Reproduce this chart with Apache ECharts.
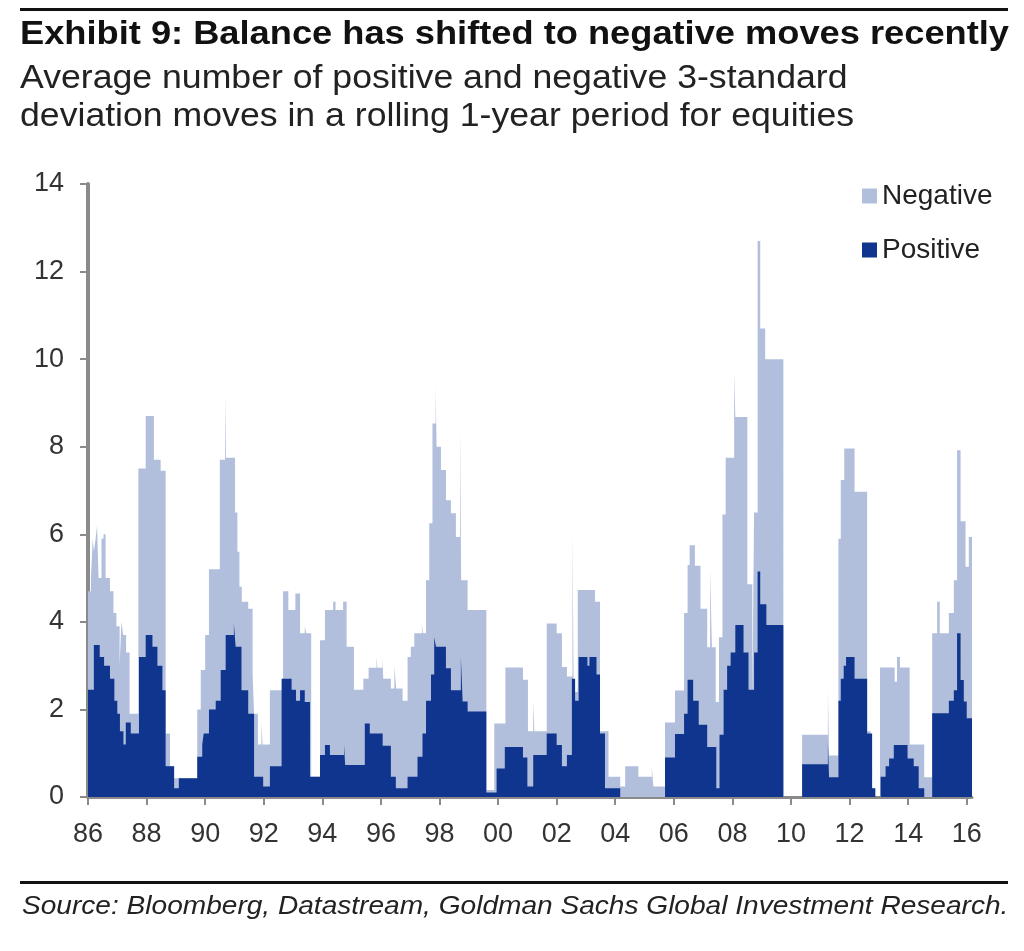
<!DOCTYPE html>
<html>
<head>
<meta charset="utf-8">
<script src="https://cdn.jsdelivr.net/npm/echarts@6/dist/echarts.min.js"></script>
<style>
  html, body { margin: 0; padding: 0; background: #fff; }
  #chart { width: 1024px; height: 951px; }
</style>
</head>
<body>
<div id="chart"></div>
<script>
// x tick labels (every 2 years)
var yearTicks = [1986, 1988, 1990, 1992, 1994, 1996, 1998, 2000, 2002, 2004, 2006, 2008, 2010, 2012, 2014, 2016];

// top of the light band (negative moves sit on top of positive ones)
var negYears = [1986.00, 1986.10, 1986.16, 1986.20, 1986.26, 1986.31, 1986.36, 1986.46, 1986.53, 1986.60,
  1986.75, 1986.87, 1986.97, 1987.08, 1987.14, 1987.20, 1987.30, 1987.42, 1987.72, 1987.97,
  1988.25, 1988.48, 1988.65, 1988.80, 1988.94, 1989.73, 1989.85, 1990.00, 1990.13, 1990.50,
  1990.68, 1990.71, 1991.02, 1991.10, 1991.17, 1991.25, 1991.47, 1991.62, 1991.67, 1991.80,
  1991.92, 1991.96, 1992.21, 1992.66, 1992.84, 1993.08, 1993.24, 1993.40, 1993.45, 1993.62,
  1993.92, 1994.09, 1994.37, 1994.45, 1994.71, 1994.83, 1995.08, 1995.40, 1995.58, 1995.85,
  1995.88, 1996.05, 1996.08, 1996.34, 1996.46, 1996.52, 1996.74, 1996.91, 1997.02, 1997.14,
  1997.40, 1997.43, 1997.54, 1997.65, 1997.76, 1997.87, 1997.90, 1998.05, 1998.22, 1998.39,
  1998.56, 1998.70, 1998.74, 1998.96, 1999.60, 1999.87, 2000.25, 2000.85, 2001.02, 2001.20,
  2001.24, 2001.66, 2002.00, 2002.18, 2002.35, 2002.54, 2002.58, 2002.72, 2003.31, 2003.48,
  2003.77, 2004.17, 2004.34, 2004.79, 2005.25, 2005.30, 2005.70, 2006.04, 2006.35, 2006.47,
  2006.54, 2006.72, 2006.91, 2007.14, 2007.24, 2007.30, 2007.43, 2007.54, 2007.66, 2007.77,
  2008.06, 2008.10, 2008.51, 2008.68, 2008.74, 2008.86, 2008.95, 2009.12, 2009.74, 2010.38,
  2011.26, 2011.30, 2011.62, 2011.70, 2011.82, 2012.17, 2012.60, 2012.72, 2012.86, 2013.04,
  2013.54, 2013.62, 2013.72, 2014.05, 2014.55, 2014.82, 2014.99, 2015.08, 2015.39, 2015.56,
  2015.67, 2015.79, 2015.96, 2016.07, 2016.18];
var negValues = [4.7, 5.0, 5.9, 5.6, 5.9, 6.2, 5.0, 5.9, 6.0, 5.0,
  4.7, 4.2, 3.9, 3.0, 4.0, 3.7, 3.3, 1.9, 7.5, 8.7,
  7.7, 7.45, 1.45, 0.7, 0.43, 2.0, 2.9, 3.7, 5.2, 7.7,
  9.2, 7.75, 6.5, 5.6, 4.8, 4.46, 4.3, 2.8, 1.9, 1.2,
  1.7, 1.2, 2.44, 4.7, 4.27, 4.65, 3.74, 3.9, 3.74, 0.46,
  3.58, 4.27, 4.46, 4.27, 4.46, 3.43, 2.45, 2.7, 2.95, 3.2,
  2.95, 3.2, 2.7, 2.48, 3.0, 2.48, 2.2, 3.2, 3.43, 3.74,
  3.96, 3.74, 4.95, 6.25, 8.53, 9.4, 8.0, 7.47, 6.78, 6.48,
  5.94, 8.45, 4.95, 4.27, 0.16, 1.68, 2.96, 2.68, 1.5, 2.2,
  1.5, 3.96, 3.74, 2.97, 2.75, 6.0, 2.4, 4.73, 4.46, 1.5,
  0.46, 0.24, 0.7, 0.46, 0.7, 0.24, 1.7, 2.43, 4.2, 5.3,
  5.75, 5.28, 4.3, 3.42, 5.2, 3.42, 2.17, 3.65, 6.45, 7.75,
  9.7, 8.68, 4.86, 2.2, 6.5, 12.7, 10.7, 10.0, 0, 1.42,
  2.44, 0.95, 5.9, 7.24, 7.96, 6.97, 1.5, 0.2, 0, 2.96,
  2.63, 3.2, 2.96, 1.2, 0.45, 3.74, 4.46, 3.74, 4.2, 4.95,
  7.92, 6.3, 5.26, 5.94, 5.94];

// positive moves (dark band)
var posYears = [1986.00, 1986.20, 1986.40, 1986.55, 1986.75, 1986.90, 1987.00, 1987.09, 1987.21, 1987.29,
  1987.46, 1987.74, 1987.97, 1988.20, 1988.37, 1988.54, 1988.65, 1988.94, 1989.10, 1989.73,
  1989.90, 1989.95, 1990.13, 1990.36, 1990.53, 1990.70, 1990.98, 1991.04, 1991.24, 1991.47,
  1991.67, 1991.98, 1992.21, 1992.61, 1992.95, 1993.10, 1993.24, 1993.40, 1993.58, 1993.92,
  1994.09, 1994.26, 1994.74, 1994.78, 1995.45, 1995.62, 1996.06, 1996.34, 1996.51, 1996.91,
  1997.25, 1997.42, 1997.54, 1997.71, 1997.82, 1997.88, 1998.22, 1998.39, 1998.73, 1998.79,
  1998.96, 1999.60, 1999.95, 2000.23, 2000.85, 2001.00, 2001.20, 2001.66, 2002.00, 2002.18,
  2002.35, 2002.52, 2002.63, 2002.75, 2003.05, 2003.12, 2003.36, 2003.48, 2003.65, 2004.17,
  2005.70, 2006.04, 2006.35, 2006.47, 2006.66, 2006.85, 2007.14, 2007.45, 2007.56, 2007.70,
  2007.82, 2007.94, 2008.10, 2008.38, 2008.55, 2008.74, 2008.86, 2008.95, 2009.16, 2009.74,
  2010.38, 2011.26, 2011.30, 2011.62, 2011.70, 2011.80, 2011.88, 2012.17, 2012.60, 2012.77,
  2012.88, 2013.06, 2013.23, 2013.35, 2013.51, 2013.98, 2014.19, 2014.36, 2014.55, 2014.82,
  2015.39, 2015.56, 2015.67, 2015.79, 2015.90, 2016.00, 2016.18];
var posValues = [2.45, 3.47, 3.2, 3.0, 2.7, 2.2, 1.9, 1.5, 1.2, 1.7,
  1.45, 3.2, 3.7, 3.43, 3.0, 2.44, 0.7, 0.2, 0.43, 0.92,
  1.2, 1.45, 2.0, 2.2, 2.9, 3.7, 3.96, 3.43, 2.44, 1.9,
  0.46, 0.24, 0.7, 2.7, 2.45, 2.2, 2.44, 2.17, 0.46, 0.96,
  1.19, 0.96, 1.19, 0.73, 1.68, 1.45, 1.17, 0.46, 0.2, 0.46,
  0.92, 1.45, 2.2, 2.8, 3.65, 3.43, 2.94, 2.44, 3.2, 2.18,
  1.95, 0.1, 0.65, 1.14, 0.9, 0.24, 0.96, 1.45, 1.19, 0.7,
  0.96, 2.7, 2.2, 3.2, 3.0, 3.2, 2.8, 1.45, 0.2, 0,
  0.9, 1.44, 1.9, 2.68, 2.2, 1.65, 1.14, 0.2, 1.42, 2.45,
  3.0, 3.3, 3.93, 3.3, 2.45, 3.3, 5.15, 4.4, 3.93, 0,
  0.75, 1.25, 0.45, 2.2, 2.7, 3.0, 3.2, 2.7, 1.45, 0.2,
  0, 0.46, 0.7, 0.88, 1.19, 0.88, 0.7, 0.2, 0, 1.91,
  2.2, 2.44, 3.74, 2.67, 2.18, 1.8, 1.8];

var lightBlue = '#b1bfdd';
var darkBlue = '#10358f';
var sans = "'Liberation Sans', Arial, sans-serif";

function pairs(xs, ys) {
  return xs.map(function (x, i) { return [x, ys[i]]; });
}

// the original type is wider than Liberation Sans, so the heading texts are stretched a little
function headText(x, y, text, font, color, sx) {
  return {
    type: 'text', x: x, y: y, scaleX: sx,
    style: { text: text, font: font, fill: color, verticalAlign: 'top', align: 'left' }
  };
}

var myChart = echarts.init(document.getElementById('chart'));

var option = {
  backgroundColor: '#fff',
  animation: false,
  graphic: [
    { type: 'rect', shape: { x: 20, y: 8, width: 988, height: 3 }, style: { fill: '#111' } },
    headText(20, 18, 'Exhibit 9: Balance has shifted to negative moves recently', 'bold 34px ' + sans, '#111', 1.066),
    headText(20, 62, 'Average number of positive and negative 3-standard', '33px ' + sans, '#222', 1.08),
    headText(20, 100, 'deviation moves in a rolling 1-year period for equities', '33px ' + sans, '#222', 1.08),
    { type: 'rect', shape: { x: 20, y: 881, width: 988, height: 3 }, style: { fill: '#111' } },
    headText(22, 894, 'Source: Bloomberg, Datastream, Goldman Sachs Global Investment Research.', 'italic 26px ' + sans, '#222', 1.08)
  ],
  legend: {
    orient: 'vertical',
    left: 857,
    top: 177,
    itemWidth: 15,
    itemHeight: 15,
    itemGap: 26,
    icon: 'rect',
    textStyle: { fontFamily: sans, fontSize: 28, color: '#222' },
    data: ['Negative', 'Positive']
  },
  grid: { left: 88, right: 52, top: 184, bottom: 154 },
  xAxis: {
    type: 'value',
    min: 1986,
    max: 2016.18,
    splitLine: { show: false },
    axisLine: { lineStyle: { color: '#8a8a8a', width: 3 } },
    axisTick: { length: 8, customValues: yearTicks, lineStyle: { color: '#8a8a8a', width: 2 } },
    axisLabel: {
      customValues: yearTicks,
      margin: 24,
      fontFamily: sans, fontSize: 27, color: '#333',
      formatter: function (v) { return String(Math.round(v) % 100).padStart(2, '0'); }
    }
  },
  yAxis: {
    type: 'value',
    min: 0,
    max: 14,
    interval: 2,
    splitLine: { show: false },
    axisLine: { show: true, lineStyle: { color: '#8a8a8a', width: 4 } },
    axisTick: { show: true, length: 8, lineStyle: { color: '#8a8a8a', width: 2 } },
    axisLabel: { margin: 24, fontFamily: sans, fontSize: 27, color: '#333' }
  },
  series: [
    {
      name: 'Negative',
      type: 'line',
      step: 'end',
      showSymbol: false,
      itemStyle: { color: lightBlue },
      lineStyle: { width: 0 },
      areaStyle: { color: lightBlue, opacity: 1 },
      data: pairs(negYears, negValues)
    },
    {
      name: 'Positive',
      type: 'line',
      step: 'end',
      showSymbol: false,
      itemStyle: { color: darkBlue },
      lineStyle: { width: 0 },
      areaStyle: { color: darkBlue, opacity: 1 },
      data: pairs(posYears, posValues)
    }
  ]
};

myChart.setOption(option);
</script>
</body>
</html>
